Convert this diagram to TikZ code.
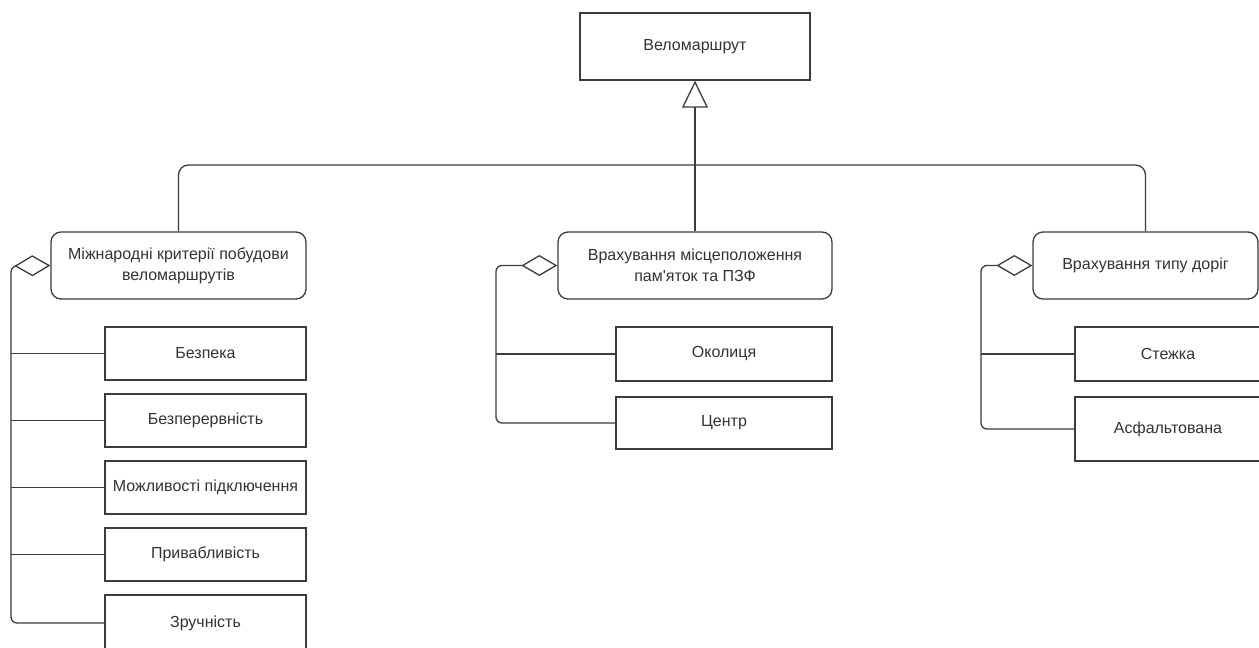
\documentclass[tikz,border=0pt]{standalone}
\usepackage{fontspec}
\setmainfont{Liberation Sans}[Ligatures=TeXOff]
\usetikzlibrary{arrows.meta}
\definecolor{ln}{HTML}{3C3C3C}
\definecolor{tx}{HTML}{333333}
\begin{document}
\begin{tikzpicture}[x=1pt,y=-1pt,
  box/.style={draw=ln,line width=1.3pt,fill=white,text=tx,font=\fontsize{16}{21}\selectfont,align=center,inner sep=0pt},
  rbox/.style={box,rounded corners=10pt,minimum height=67pt},
  conn/.style={draw=ln,line width=1.3pt},
  agg/.style={conn,rounded corners=6pt,{Diamond[open,length=36pt,width=21pt]}-},
  inh/.style={conn,-{Triangle[open,length=27pt,width=26pt]}}
]
\useasboundingbox (0,0) rectangle (1259,648);

% top
\node[box,minimum width=230pt,minimum height=67pt] (top) at (695,46.5) {Веломаршрут};

% parents
\node[rbox,minimum width=255pt] (Lp) at (178.5,265.5) {Міжнародні критерії побудови\\веломаршрутів};
\node[rbox,minimum width=274pt] (Mp) at (695,265.5) {Врахування місцеположення\\пам'яток та ПЗФ};
\node[rbox,minimum width=225pt] (Rp) at (1145.5,265.5) {Врахування типу доріг};

% left children
\node[box,minimum width=201pt,minimum height=53pt] (L1) at (205.5,353.5) {Безпека};
\node[box,minimum width=201pt,minimum height=53pt] (L2) at (205.5,420.5) {Безперервність};
\node[box,minimum width=201pt,minimum height=53pt] (L3) at (205.5,487.5) {Можливості підключення};
\node[box,minimum width=201pt,minimum height=53pt] (L4) at (205.5,554.5) {Привабливість};
\node[box,minimum width=201pt,minimum height=56pt] (L5) at (205.5,623) {Зручність};

% middle children
\node[box,minimum width=216pt,minimum height=54pt] (M1) at (724,354) {Околиця};
\node[box,minimum width=216pt,minimum height=52pt] (M2) at (724,423) {Центр};

% right children
\node[box,minimum width=186pt,minimum height=54pt] (R1) at (1168,354) {Стежка};
\node[box,minimum width=186pt,minimum height=64pt] (R2) at (1168,429) {Асфальтована};

% inheritance
\coordinate (hub) at (695,165);
\draw[conn,rounded corners=10pt] (Lp.north) |- (hub) -| (Rp.north);
\draw[inh] (Mp.north) -- (top.south);

% aggregation left
\coordinate (Lx) at (11,266);
\draw[agg] (Lp.west) -- (Lx) |- (L5.west);
\draw[conn] (L1.west) -- (L1.west -| Lx);
\draw[conn] (L2.west) -- (L2.west -| Lx);
\draw[conn] (L3.west) -- (L3.west -| Lx);
\draw[conn] (L4.west) -- (L4.west -| Lx);

% aggregation middle
\coordinate (Mx) at (496,265.5);
\draw[agg] (Mp.west) -- (Mx) |- (M2.west);
\draw[conn] (M1.west) -- (M1.west -| Mx);

% aggregation right
\coordinate (Rx) at (981,265.5);
\draw[agg] (Rp.west) -- (Rx) |- (R2.west);
\draw[conn] (R1.west) -- (R1.west -| Rx);
\end{tikzpicture}
\end{document}
